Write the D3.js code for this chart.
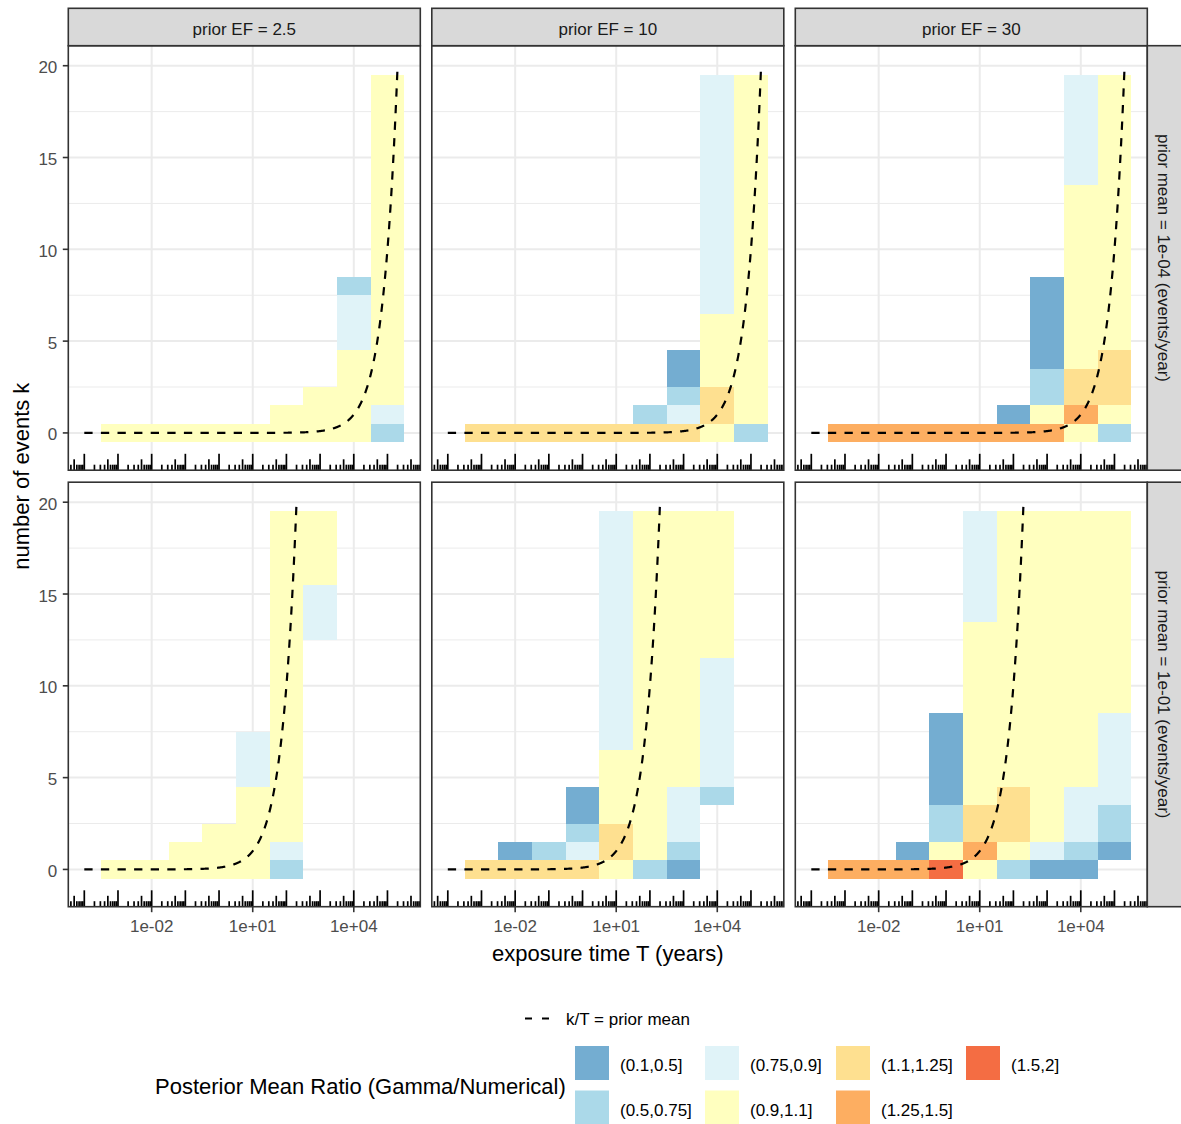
<!DOCTYPE html>
<html>
<head>
<meta charset="utf-8">
<script src="https://cdn.jsdelivr.net/npm/d3@7"></script>
<style>
  body { margin: 0; background: #fff; }
  svg { display: block; font-family: "Liberation Sans", Arial, Helvetica, sans-serif; }
</style>
</head>
<body>
<div id="viz"></div>
<script>
// facet labels
var efLabels = ["prior EF = 2.5", "prior EF = 10", "prior EF = 30"];
var meanLabels = ["prior mean = 1e-04 (events/year)", "prior mean = 1e-01 (events/year)"];
var priorMeans = [1e-4, 1e-1];

// fill classes
var ratioBins = ["(0.1,0.5]", "(0.5,0.75]", "(0.75,0.9]", "(0.9,1.1]", "(1.1,1.25]", "(1.25,1.5]", "(1.5,2]"];
var binColors = ["#74add1", "#abd9e9", "#e0f3f8", "#ffffbf", "#fee090", "#fdae61", "#f46d43"];

var xTicks = [1e-2, 1e1, 1e4];
var xTickLabels = ["1e-02", "1e+01", "1e+04"];
var yTicks = [0, 5, 10, 15, 20];
var yMinor = [2.5, 7.5, 12.5, 17.5];

// tiles: [exposure T, k from, k to, bin index]  (one decade wide, k +-0.5)
var tilesMean4EF2 = [
  [1e-3,0,0,3],[1e-2,0,0,3],[1e-1,0,0,3],[1,0,0,3],[1e1,0,0,3],
  [1e2,0,1,3],
  [1e3,0,2,3],
  [1e4,0,4,3],[1e4,5,7,2],[1e4,8,8,1],
  [1e5,0,0,1],[1e5,1,1,2],[1e5,2,19,3]
];
var tilesMean4EF10 = [
  [1e-3,0,0,4],[1e-2,0,0,4],[1e-1,0,0,4],[1,0,0,4],[1e1,0,0,4],
  [1e2,0,0,4],[1e2,1,1,1],
  [1e3,0,0,4],[1e3,1,1,2],[1e3,2,2,1],[1e3,3,4,0],
  [1e4,0,0,3],[1e4,1,2,4],[1e4,3,6,3],[1e4,7,19,2],
  [1e5,0,0,1],[1e5,1,19,3]
];
var tilesMean4EF30 = [
  [1e-3,0,0,5],[1e-2,0,0,5],[1e-1,0,0,5],[1,0,0,5],[1e1,0,0,5],
  [1e2,0,0,5],[1e2,1,1,0],
  [1e3,0,0,5],[1e3,1,1,3],[1e3,2,3,1],[1e3,4,8,0],
  [1e4,0,0,3],[1e4,1,1,5],[1e4,2,3,4],[1e4,4,13,3],[1e4,14,19,2],
  [1e5,0,0,1],[1e5,1,1,3],[1e5,2,4,4],[1e5,5,19,3]
];
var tilesMean1EF2 = [
  [1e-3,0,0,3],[1e-2,0,0,3],
  [1e-1,0,1,3],
  [1,0,2,3],
  [1e1,0,4,3],[1e1,5,7,2],
  [1e2,0,0,1],[1e2,1,1,2],[1e2,2,19,3],
  [1e3,13,15,2],[1e3,16,19,3]
];
var tilesMean1EF10 = [
  [1e-3,0,0,4],
  [1e-2,0,0,4],[1e-2,1,1,0],
  [1e-1,0,0,4],[1e-1,1,1,1],
  [1,0,0,4],[1,1,1,2],[1,2,2,1],[1,3,4,0],
  [1e1,0,0,3],[1e1,1,2,4],[1e1,3,6,3],[1e1,7,19,2],
  [1e2,0,0,1],[1e2,1,19,3],
  [1e3,0,0,0],[1e3,1,1,1],[1e3,2,4,2],[1e3,5,19,3],
  [1e4,4,4,1],[1e4,5,11,2],[1e4,12,19,3]
];
var tilesMean1EF30 = [
  [1e-3,0,0,5],[1e-2,0,0,5],
  [1e-1,0,0,5],[1e-1,1,1,0],
  [1,0,0,6],[1,1,1,3],[1,2,3,1],[1,4,8,0],
  [1e1,0,0,3],[1e1,1,1,5],[1e1,2,3,4],[1e1,4,13,3],[1e1,14,19,2],
  [1e2,0,0,1],[1e2,1,1,3],[1e2,2,4,4],[1e2,5,19,3],
  [1e3,0,0,0],[1e3,1,1,2],[1e3,2,19,3],
  [1e4,0,0,0],[1e4,1,1,1],[1e4,2,4,2],[1e4,5,19,3],
  [1e5,1,1,0],[1e5,2,3,1],[1e5,4,8,2],[1e5,9,19,3]
];

var panelTiles = [
  [tilesMean4EF2, tilesMean4EF10, tilesMean4EF30],
  [tilesMean1EF2, tilesMean1EF10, tilesMean1EF30]
];

// layout
var W = 1181, H = 1124;
var panelW = 352, panelH = 424.5, stripH = 37.4;
var colX = [68.3, 431.8, 795.3];
var rowY = [45.7, 482.2];

var svg = d3.select("#viz").append("svg")
  .attr("width", W)
  .attr("height", H);

var x = d3.scaleLog()
  .domain([Math.pow(10, -4.475), Math.pow(10, 5.975)])
  .range([0, panelW]);

var y = d3.scaleLinear()
  .domain([-2.03, 21.09])
  .range([panelH, 0]);

var fill = d3.scaleOrdinal().domain(d3.range(ratioBins.length)).range(binColors);

var halfDecade = Math.sqrt(10);

// log tick marks like annotation_logticks
var logTicks = [];
for (var e = -5; e <= 5; e++) {
  for (var m = 1; m <= 9; m++) {
    var v = m * Math.pow(10, e);
    if (v >= x.domain()[0] && v <= x.domain()[1]) logTicks.push({v: v, len: m == 1 ? 16.4 : (m == 5 ? 10.9 : 5.5)});
  }
}

panelTiles.forEach(function(row, r){
  row.forEach(function(tiles, c){

    var g = svg.append("g")
      .attr("transform", "translate(" + colX[c] + "," + rowY[r] + ")");

    g.append("rect").attr("width", panelW).attr("height", panelH).attr("fill", "#fff");

    g.selectAll(".minor").data(yMinor).enter().append("line")
      .attr("x1", 0).attr("x2", panelW)
      .attr("y1", function(d){return y(d)}).attr("y2", function(d){return y(d)})
      .attr("stroke", "#ebebeb").attr("stroke-width", 1);

    g.selectAll(".hmajor").data(yTicks).enter().append("line")
      .attr("x1", 0).attr("x2", panelW)
      .attr("y1", function(d){return y(d)}).attr("y2", function(d){return y(d)})
      .attr("stroke", "#ebebeb").attr("stroke-width", 2);

    g.selectAll(".vmajor").data(xTicks).enter().append("line")
      .attr("y1", 0).attr("y2", panelH)
      .attr("x1", function(d){return x(d)}).attr("x2", function(d){return x(d)})
      .attr("stroke", "#ebebeb").attr("stroke-width", 2);

    g.selectAll(".tile").data(tiles).enter().append("rect")
      .attr("x", function(d){return x(d[0] / halfDecade)})
      .attr("width", function(d){return x(d[0] * halfDecade) - x(d[0] / halfDecade)})
      .attr("y", function(d){return y(d[2] + 0.5)})
      .attr("height", function(d){return y(d[1] - 0.5) - y(d[2] + 0.5)})
      .attr("fill", function(d){return fill(d[3])})
      .attr("shape-rendering", "crispEdges");

    // k/T = prior mean reference curve
    var pm = priorMeans[r];
    var lineT = d3.range(-4, Math.log10(20 / pm) + 1e-9, 0.01).map(function(l){return Math.pow(10, l)});
    lineT.push(20 / pm);
    var line = d3.line()
      .x(function(t){return x(t)})
      .y(function(t){return y(pm * t)});
    g.append("path")
      .attr("d", line(lineT))
      .attr("fill", "none")
      .attr("stroke", "#000")
      .attr("stroke-width", 2.2)
      .attr("stroke-dasharray", "8.3,8.3");

    g.selectAll(".logtick").data(logTicks).enter().append("line")
      .attr("x1", function(d){return x(d.v)}).attr("x2", function(d){return x(d.v)})
      .attr("y1", panelH).attr("y2", function(d){return panelH - d.len})
      .attr("stroke", "#000").attr("stroke-width", 1.7);

    g.append("rect").attr("width", panelW).attr("height", panelH)
      .attr("fill", "none").attr("stroke", "#333").attr("stroke-width", 1.6);

    // top strips
    if (r == 0) {
      var s = svg.append("g").attr("transform", "translate(" + colX[c] + "," + (rowY[0] - stripH) + ")");
      s.append("rect").attr("width", panelW).attr("height", stripH)
        .attr("fill", "#d9d9d9").attr("stroke", "#333").attr("stroke-width", 1.6);
      s.append("text").attr("x", panelW / 2).attr("y", stripH / 2 + 8.3)
        .attr("text-anchor", "middle").attr("font-size", 17).attr("fill", "#1a1a1a")
        .text(efLabels[c]);
    }

    // right strips
    if (c == 2) {
      var rs = svg.append("g").attr("transform", "translate(" + (colX[2] + panelW) + "," + rowY[r] + ")");
      rs.append("rect").attr("width", stripH).attr("height", panelH)
        .attr("fill", "#d9d9d9").attr("stroke", "#333").attr("stroke-width", 1.6);
      rs.append("text")
        .attr("transform", "translate(" + (stripH / 2 - 8.3) + "," + (panelH / 2) + ") rotate(90)")
        .attr("text-anchor", "middle").attr("font-size", 17).attr("fill", "#1a1a1a")
        .text(meanLabels[r]);
    }

    // y axis
    if (c == 0) {
      var ya = svg.append("g").attr("transform", "translate(" + colX[0] + "," + rowY[r] + ")");
      ya.selectAll("line").data(yTicks).enter().append("line")
        .attr("x1", -5.5).attr("x2", 0)
        .attr("y1", function(d){return y(d)}).attr("y2", function(d){return y(d)})
        .attr("stroke", "#333").attr("stroke-width", 1.6);
      ya.selectAll("text").data(yTicks).enter().append("text")
        .attr("x", -11).attr("y", function(d){return y(d) + 7.5})
        .attr("text-anchor", "end").attr("font-size", 17).attr("fill", "#4d4d4d")
        .text(function(d){return d});
    }

    // x axis
    if (r == 1) {
      var xa = svg.append("g").attr("transform", "translate(" + colX[c] + "," + (rowY[1] + panelH) + ")");
      xa.selectAll("line").data(xTicks).enter().append("line")
        .attr("y1", 0).attr("y2", 5.5)
        .attr("x1", function(d){return x(d)}).attr("x2", function(d){return x(d)})
        .attr("stroke", "#333").attr("stroke-width", 1.6);
      xa.selectAll("text").data(xTicks).enter().append("text")
        .attr("y", 25.6).attr("x", function(d){return x(d)})
        .attr("text-anchor", "middle").attr("font-size", 17).attr("fill", "#4d4d4d")
        .text(function(d, i){return xTickLabels[i]});
    }
  });
});

// axis titles
svg.append("text")
  .attr("x", (colX[0] + colX[2] + panelW) / 2).attr("y", 960.5)
  .attr("text-anchor", "middle").attr("font-size", 22).attr("fill", "#000")
  .text("exposure time T (years)");

svg.append("text")
  .attr("transform", "translate(28.5," + (rowY[0] + (rowY[1] + panelH - rowY[0]) / 2) + ") rotate(-90)")
  .attr("text-anchor", "middle").attr("font-size", 22).attr("fill", "#000")
  .text("number of events k");

// legend: linetype
svg.append("line")
  .attr("x1", 525).attr("x2", 549).attr("y1", 1018.5).attr("y2", 1018.5)
  .attr("stroke", "#000").attr("stroke-width", 2.2).attr("stroke-dasharray", "7,10");
svg.append("text")
  .attr("x", 566).attr("y", 1025).attr("font-size", 17).attr("fill", "#000")
  .text("k/T = prior mean");

// legend: fill
var legColX = [575, 705, 836, 966];
var legRowY = [1046, 1090.5];
var keySize = 34;

svg.append("text")
  .attr("x", 155).attr("y", 1094.3).attr("font-size", 22).attr("fill", "#000")
  .text("Posterior Mean Ratio (Gamma/Numerical)");

var keys = svg.selectAll(".key").data(ratioBins).enter().append("g")
  .attr("transform", function(d, i){
    return "translate(" + legColX[Math.floor(i / 2)] + "," + legRowY[i % 2] + ")";
  });
keys.append("rect").attr("width", keySize).attr("height", keySize)
  .attr("fill", function(d, i){return fill(i)});
keys.append("text").attr("x", keySize + 11).attr("y", keySize / 2 + 8)
  .attr("font-size", 17).attr("fill", "#000")
  .text(function(d){return d});
</script>
</body>
</html>
